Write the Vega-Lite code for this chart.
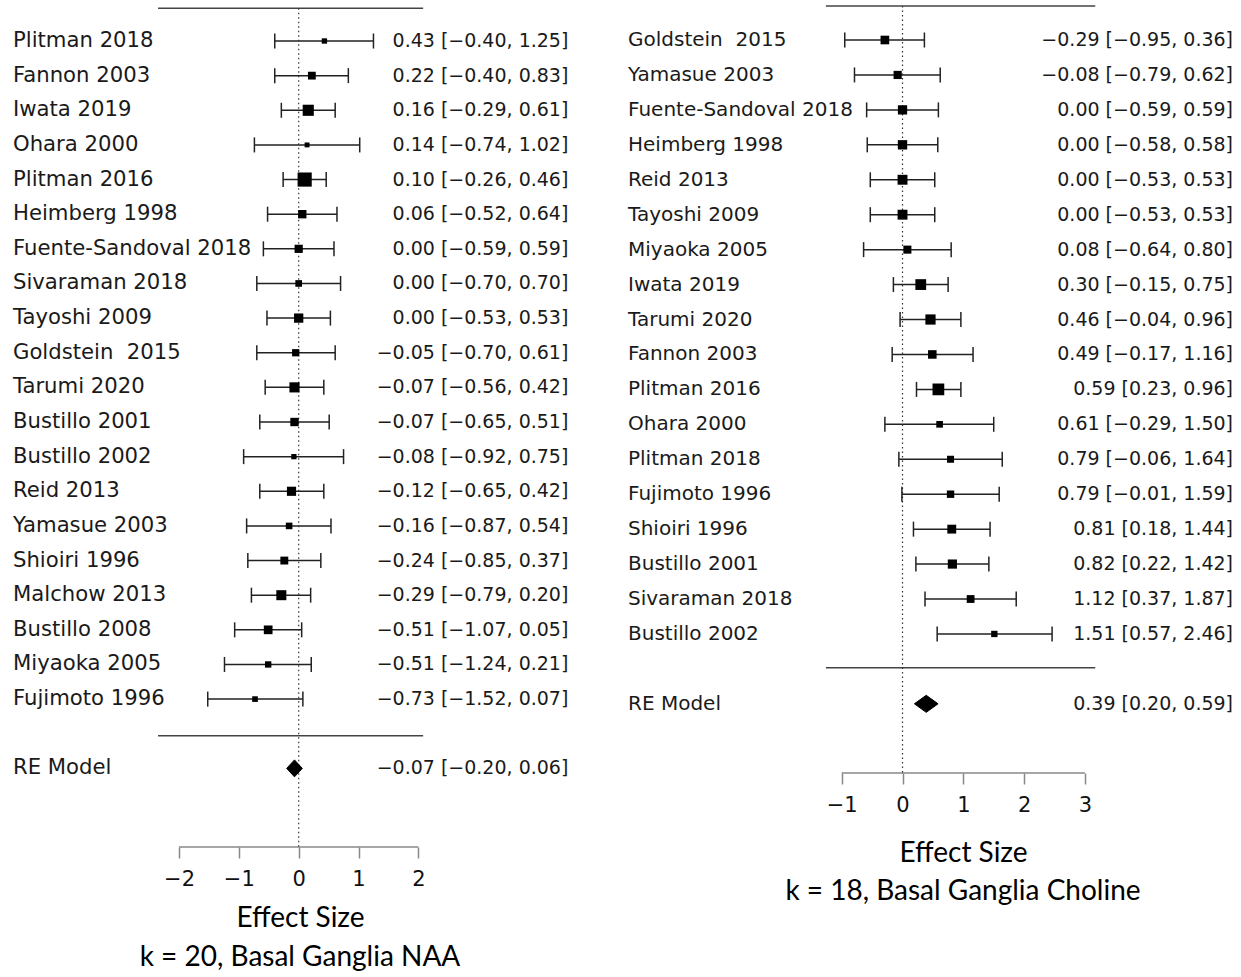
{
  "$schema": "https://vega.github.io/schema/vega-lite/v6.json",
  "padding": 0,
  "background": "white",
  "bounds": "flush",
  "spacing": 10,
  "config": {
    "view": {"stroke": null},
    "axis": {"grid": false},
    "text": {"font": "DejaVu Sans"}
  },
  "datasets": {
    "naa": [
      {"study": "Plitman 2018", "row": 1, "est": 0.43, "lb": -0.40, "ub": 1.25, "weight": 2.47, "ci": "0.43 [−0.40, 1.25]", "kind": "study"},
      {"study": "Fannon 2003", "row": 2, "est": 0.22, "lb": -0.40, "ub": 0.83, "weight": 4.45, "ci": "0.22 [−0.40, 0.83]", "kind": "study"},
      {"study": "Iwata 2019", "row": 3, "est": 0.16, "lb": -0.29, "ub": 0.61, "weight": 8.32, "ci": "0.16 [−0.29, 0.61]", "kind": "study"},
      {"study": "Ohara 2000", "row": 4, "est": 0.14, "lb": -0.74, "ub": 1.02, "weight": 2.18, "ci": "0.14 [−0.74, 1.02]", "kind": "study"},
      {"study": "Plitman 2016", "row": 5, "est": 0.10, "lb": -0.26, "ub": 0.46, "weight": 13.0, "ci": "0.10 [−0.26, 0.46]", "kind": "study"},
      {"study": "Heimberg 1998", "row": 6, "est": 0.06, "lb": -0.52, "ub": 0.64, "weight": 5.01, "ci": "0.06 [−0.52, 0.64]", "kind": "study"},
      {"study": "Fuente-Sandoval 2018", "row": 7, "est": 0.00, "lb": -0.59, "ub": 0.59, "weight": 4.84, "ci": "0.00 [−0.59, 0.59]", "kind": "study"},
      {"study": "Sivaraman 2018", "row": 8, "est": 0.00, "lb": -0.70, "ub": 0.70, "weight": 3.44, "ci": "0.00 [−0.70, 0.70]", "kind": "study"},
      {"study": "Tayoshi 2009", "row": 9, "est": 0.00, "lb": -0.53, "ub": 0.53, "weight": 6.00, "ci": "0.00 [−0.53, 0.53]", "kind": "study"},
      {"study": "Goldstein\u00a0 2015", "row": 10, "est": -0.05, "lb": -0.70, "ub": 0.61, "weight": 3.93, "ci": "−0.05 [−0.70, 0.61]", "kind": "study"},
      {"study": "Tarumi 2020", "row": 11, "est": -0.07, "lb": -0.56, "ub": 0.42, "weight": 7.02, "ci": "−0.07 [−0.56, 0.42]", "kind": "study"},
      {"study": "Bustillo 2001", "row": 12, "est": -0.07, "lb": -0.65, "ub": 0.51, "weight": 5.01, "ci": "−0.07 [−0.65, 0.51]", "kind": "study"},
      {"study": "Bustillo 2002", "row": 13, "est": -0.08, "lb": -0.92, "ub": 0.75, "weight": 2.42, "ci": "−0.08 [−0.92, 0.75]", "kind": "study"},
      {"study": "Reid 2013", "row": 14, "est": -0.12, "lb": -0.65, "ub": 0.42, "weight": 5.88, "ci": "−0.12 [−0.65, 0.42]", "kind": "study"},
      {"study": "Yamasue 2003", "row": 15, "est": -0.16, "lb": -0.87, "ub": 0.54, "weight": 3.39, "ci": "−0.16 [−0.87, 0.54]", "kind": "study"},
      {"study": "Shioiri 1996", "row": 16, "est": -0.24, "lb": -0.85, "ub": 0.37, "weight": 4.53, "ci": "−0.24 [−0.85, 0.37]", "kind": "study"},
      {"study": "Malchow 2013", "row": 17, "est": -0.29, "lb": -0.79, "ub": 0.20, "weight": 6.87, "ci": "−0.29 [−0.79, 0.20]", "kind": "study"},
      {"study": "Bustillo 2008", "row": 18, "est": -0.51, "lb": -1.07, "ub": 0.05, "weight": 5.37, "ci": "−0.51 [−1.07, 0.05]", "kind": "study"},
      {"study": "Miyaoka 2005", "row": 19, "est": -0.51, "lb": -1.24, "ub": 0.21, "weight": 3.21, "ci": "−0.51 [−1.24, 0.21]", "kind": "study"},
      {"study": "Fujimoto 1996", "row": 20, "est": -0.73, "lb": -1.52, "ub": 0.07, "weight": 2.67, "ci": "−0.73 [−1.52, 0.07]", "kind": "study"},
      {"study": "RE Model", "row": 22, "est": -0.07, "lb": -0.20, "ub": 0.06, "ci": "−0.07 [−0.20, 0.06]", "kind": "summary"}
    ],
    "cho": [
      {"study": "Goldstein\u00a0 2015", "row": 1, "est": -0.29, "lb": -0.95, "ub": 0.36, "weight": 5.29, "ci": "−0.29 [−0.95, 0.36]", "kind": "study"},
      {"study": "Yamasue 2003", "row": 2, "est": -0.08, "lb": -0.79, "ub": 0.62, "weight": 4.83, "ci": "−0.08 [−0.79, 0.62]", "kind": "study"},
      {"study": "Fuente-Sandoval 2018", "row": 3, "est": 0.00, "lb": -0.59, "ub": 0.59, "weight": 5.99, "ci": "0.00 [−0.59, 0.59]", "kind": "study"},
      {"study": "Heimberg 1998", "row": 4, "est": 0.00, "lb": -0.58, "ub": 0.58, "weight": 6.11, "ci": "0.00 [−0.58, 0.58]", "kind": "study"},
      {"study": "Reid 2013", "row": 5, "est": 0.00, "lb": -0.53, "ub": 0.53, "weight": 6.72, "ci": "0.00 [−0.53, 0.53]", "kind": "study"},
      {"study": "Tayoshi 2009", "row": 6, "est": 0.00, "lb": -0.53, "ub": 0.53, "weight": 6.72, "ci": "0.00 [−0.53, 0.53]", "kind": "study"},
      {"study": "Miyaoka 2005", "row": 7, "est": 0.08, "lb": -0.64, "ub": 0.80, "weight": 4.69, "ci": "0.08 [−0.64, 0.80]", "kind": "study"},
      {"study": "Iwata 2019", "row": 8, "est": 0.30, "lb": -0.15, "ub": 0.75, "weight": 7.84, "ci": "0.30 [−0.15, 0.75]", "kind": "study"},
      {"study": "Tarumi 2020", "row": 9, "est": 0.46, "lb": -0.04, "ub": 0.96, "weight": 7.12, "ci": "0.46 [−0.04, 0.96]", "kind": "study"},
      {"study": "Fannon 2003", "row": 10, "est": 0.49, "lb": -0.17, "ub": 1.16, "weight": 5.19, "ci": "0.49 [−0.17, 1.16]", "kind": "study"},
      {"study": "Plitman 2016", "row": 11, "est": 0.59, "lb": 0.23, "ub": 0.96, "weight": 9.18, "ci": "0.59 [0.23, 0.96]", "kind": "study"},
      {"study": "Ohara 2000", "row": 12, "est": 0.61, "lb": -0.29, "ub": 1.50, "weight": 3.45, "ci": "0.61 [−0.29, 1.50]", "kind": "study"},
      {"study": "Plitman 2018", "row": 13, "est": 0.79, "lb": -0.06, "ub": 1.64, "weight": 3.72, "ci": "0.79 [−0.06, 1.64]", "kind": "study"},
      {"study": "Fujimoto 1996", "row": 14, "est": 0.79, "lb": -0.01, "ub": 1.59, "weight": 4.07, "ci": "0.79 [−0.01, 1.59]", "kind": "study"},
      {"study": "Shioiri 1996", "row": 15, "est": 0.81, "lb": 0.18, "ub": 1.44, "weight": 5.55, "ci": "0.81 [0.18, 1.44]", "kind": "study"},
      {"study": "Bustillo 2001", "row": 16, "est": 0.82, "lb": 0.22, "ub": 1.42, "weight": 5.88, "ci": "0.82 [0.22, 1.42]", "kind": "study"},
      {"study": "Sivaraman 2018", "row": 17, "est": 1.12, "lb": 0.37, "ub": 1.87, "weight": 4.44, "ci": "1.12 [0.37, 1.87]", "kind": "study"},
      {"study": "Bustillo 2002", "row": 18, "est": 1.51, "lb": 0.57, "ub": 2.46, "weight": 3.18, "ci": "1.51 [0.57, 2.46]", "kind": "study"},
      {"study": "RE Model", "row": 20, "est": 0.39, "lb": 0.20, "ub": 0.59, "ci": "0.39 [0.20, 0.59]", "kind": "summary"}
    ]
  },
  "hconcat": [
    {
      "width": 600,
      "height": 847,
      "title": {"text": "k = 20, Basal Ganglia NAA", "orient": "bottom", "anchor": "middle", "font": "Lato", "fontSize": 28, "fontWeight": "normal", "color": "#000", "offset": 11},
      "data": {"name": "naa"},
      "layer": [
        {
          "transform": [{"filter": "datum.kind == 'study'"}],
          "mark": {"type": "rule", "color": "#222", "strokeWidth": 1.5},
          "encoding": {
            "x": {"field": "lb", "type": "quantitative", "title": "Effect Size",
              "scale": {"domain": [-4.992, 5.036], "nice": false, "zero": false},
              "axis": {"values": [-2, -1, 0, 1, 2], "format": "d", "domain": false, "ticks": true, "tickColor": "#888", "tickWidth": 1.5, "tickSize": 11, "labelFont": "DejaVu Sans", "labelFontSize": 21, "labelColor": "#111", "labelPadding": 10, "labelFlush": false, "labelOverlap": false, "titleFont": "Lato", "titleFontSize": 28, "titleFontWeight": "normal", "titleColor": "#000", "titlePadding": 15.5}},
            "x2": {"field": "ub"},
            "y": {"field": "row", "type": "quantitative", "axis": null, "scale": {"domain": [-0.184, 24.27], "reverse": true, "nice": false, "zero": false}}
          }
        },
        {
          "data": {"values": [{}]},
          "mark": {"type": "rule", "color": "#444", "strokeWidth": 1.5},
          "encoding": {"x": {"datum": -2.35, "type": "quantitative", "title": "Effect Size"}, "x2": {"datum": 2.08}, "y": {"datum": 0.056, "type": "quantitative", "axis": null}}
        },
        {
          "data": {"values": [{}]},
          "mark": {"type": "rule", "color": "#444", "strokeWidth": 1.5},
          "encoding": {"x": {"datum": -2.35, "type": "quantitative", "title": "Effect Size"}, "x2": {"datum": 2.08}, "y": {"datum": 21.06, "type": "quantitative", "axis": null}}
        },
        {
          "data": {"values": [{}]},
          "mark": {"type": "rule", "color": "#888", "strokeWidth": 1.5},
          "encoding": {"x": {"datum": -2, "type": "quantitative", "title": "Effect Size"}, "x2": {"datum": 2}, "y": {"datum": 24.27, "type": "quantitative", "axis": null}}
        },
        {
          "data": {"values": [{}]},
          "mark": {"type": "rule", "color": "#333", "strokeWidth": 1.2, "strokeDash": [1.5, 3]},
          "encoding": {"x": {"datum": 0, "type": "quantitative", "title": "Effect Size"}, "y": {"datum": 0.056, "type": "quantitative", "axis": null}, "y2": {"datum": 24.27}}
        },
        {
          "transform": [{"filter": "datum.kind == 'study'"}],
          "mark": {"type": "point", "shape": "M0,-1L0,1", "size": 225, "filled": false, "stroke": "#222", "strokeWidth": 1.5, "opacity": 1},
          "encoding": {"x": {"field": "lb", "type": "quantitative", "title": "Effect Size"}, "y": {"field": "row", "type": "quantitative", "axis": null}}
        },
        {
          "transform": [{"filter": "datum.kind == 'study'"}],
          "mark": {"type": "point", "shape": "M0,-1L0,1", "size": 225, "filled": false, "stroke": "#222", "strokeWidth": 1.5, "opacity": 1},
          "encoding": {"x": {"field": "ub", "type": "quantitative", "title": "Effect Size"}, "y": {"field": "row", "type": "quantitative", "axis": null}}
        },
        {
          "transform": [{"filter": "datum.kind == 'study'"}],
          "mark": {"type": "point", "shape": "square", "filled": true, "color": "#000", "opacity": 1, "strokeWidth": 0},
          "encoding": {
            "x": {"field": "est", "type": "quantitative", "title": "Effect Size"},
            "y": {"field": "row", "type": "quantitative", "axis": null},
            "size": {"field": "weight", "type": "quantitative", "legend": null, "scale": {"domain": [2.18, 13.0], "range": [24, 200], "zero": false}}
          }
        },
        {
          "transform": [{"filter": "datum.kind == 'summary'"}],
          "mark": {"type": "point", "shape": "M-1,0L0,-1.09L1,0L0,1.09Z", "size": 243, "filled": true, "color": "#000", "stroke": "#000", "strokeWidth": 1, "opacity": 1},
          "encoding": {"x": {"field": "est", "type": "quantitative", "title": "Effect Size"}, "y": {"field": "row", "type": "quantitative", "axis": null}}
        },
        {
          "mark": {"type": "text", "align": "left", "baseline": "middle", "fontSize": 21.2, "color": "#1a1a1a", "font": "DejaVu Sans"},
          "encoding": {"x": {"datum": -4.775, "type": "quantitative", "title": "Effect Size"}, "y": {"field": "row", "type": "quantitative", "axis": null}, "text": {"field": "study"}}
        },
        {
          "mark": {"type": "text", "align": "right", "baseline": "middle", "fontSize": 19, "color": "#1a1a1a", "font": "DejaVu Sans"},
          "encoding": {"x": {"datum": 4.507, "type": "quantitative", "title": "Effect Size"}, "y": {"field": "row", "type": "quantitative", "axis": null}, "text": {"field": "ci"}}
        }
      ]
    },
    {
      "width": 631,
      "height": 773,
      "title": {"text": "k = 18, Basal Ganglia Choline", "orient": "bottom", "anchor": "middle", "dx": 37.5, "font": "Lato", "fontSize": 28, "fontWeight": "normal", "color": "#000", "offset": 10},
      "data": {"name": "cho"},
      "layer": [
        {
          "transform": [{"filter": "datum.kind == 'study'"}],
          "mark": {"type": "rule", "color": "#222", "strokeWidth": 1.5},
          "encoding": {
            "x": {"field": "lb", "type": "quantitative", "title": "Effect Size",
              "scale": {"domain": [-4.811, 5.567], "nice": false, "zero": false},
              "axis": {"values": [-1, 0, 1, 2, 3], "format": "d", "domain": false, "ticks": true, "tickColor": "#888", "tickWidth": 1.5, "tickSize": 11, "labelFont": "DejaVu Sans", "labelFontSize": 21, "labelColor": "#111", "labelPadding": 10, "labelFlush": false, "labelOverlap": false, "titleFont": "Lato", "titleFontSize": 28, "titleFontWeight": "normal", "titleColor": "#000", "titlePadding": 24.5, "titleX": 353, "titleAlign": "center"}},
            "x2": {"field": "ub"},
            "y": {"field": "row", "type": "quantitative", "axis": null, "scale": {"domain": [-0.145, 21.98], "reverse": true, "nice": false, "zero": false}}
          }
        },
        {
          "data": {"values": [{}]},
          "mark": {"type": "rule", "color": "#444", "strokeWidth": 1.5},
          "encoding": {"x": {"datum": -1.26, "type": "quantitative", "title": "Effect Size"}, "x2": {"datum": 3.17}, "y": {"datum": 0.027, "type": "quantitative", "axis": null}}
        },
        {
          "data": {"values": [{}]},
          "mark": {"type": "rule", "color": "#444", "strokeWidth": 1.5},
          "encoding": {"x": {"datum": -1.26, "type": "quantitative", "title": "Effect Size"}, "x2": {"datum": 3.17}, "y": {"datum": 18.97, "type": "quantitative", "axis": null}}
        },
        {
          "data": {"values": [{}]},
          "mark": {"type": "rule", "color": "#888", "strokeWidth": 1.5},
          "encoding": {"x": {"datum": -1, "type": "quantitative", "title": "Effect Size"}, "x2": {"datum": 3}, "y": {"datum": 21.98, "type": "quantitative", "axis": null}}
        },
        {
          "data": {"values": [{}]},
          "mark": {"type": "rule", "color": "#333", "strokeWidth": 1.2, "strokeDash": [1.5, 3]},
          "encoding": {"x": {"datum": 0, "type": "quantitative", "title": "Effect Size"}, "y": {"datum": 0.027, "type": "quantitative", "axis": null}, "y2": {"datum": 21.98}}
        },
        {
          "transform": [{"filter": "datum.kind == 'study'"}],
          "mark": {"type": "point", "shape": "M0,-1L0,1", "size": 225, "filled": false, "stroke": "#222", "strokeWidth": 1.5, "opacity": 1},
          "encoding": {"x": {"field": "lb", "type": "quantitative", "title": "Effect Size"}, "y": {"field": "row", "type": "quantitative", "axis": null}}
        },
        {
          "transform": [{"filter": "datum.kind == 'study'"}],
          "mark": {"type": "point", "shape": "M0,-1L0,1", "size": 225, "filled": false, "stroke": "#222", "strokeWidth": 1.5, "opacity": 1},
          "encoding": {"x": {"field": "ub", "type": "quantitative", "title": "Effect Size"}, "y": {"field": "row", "type": "quantitative", "axis": null}}
        },
        {
          "transform": [{"filter": "datum.kind == 'study'"}],
          "mark": {"type": "point", "shape": "square", "filled": true, "color": "#000", "opacity": 1, "strokeWidth": 0},
          "encoding": {
            "x": {"field": "est", "type": "quantitative", "title": "Effect Size"},
            "y": {"field": "row", "type": "quantitative", "axis": null},
            "size": {"field": "weight", "type": "quantitative", "legend": null, "scale": {"domain": [3.18, 9.18], "range": [24, 220], "zero": false}}
          }
        },
        {
          "transform": [{"filter": "datum.kind == 'summary'"}],
          "mark": {"type": "point", "shape": "M-1,0L0,-0.72L1,0L0,0.72Z", "size": 562, "filled": true, "color": "#000", "stroke": "#000", "strokeWidth": 1, "opacity": 1},
          "encoding": {"x": {"field": "est", "type": "quantitative", "title": "Effect Size"}, "y": {"field": "row", "type": "quantitative", "axis": null}}
        },
        {
          "mark": {"type": "text", "align": "left", "baseline": "middle", "fontSize": 20, "color": "#1a1a1a", "font": "DejaVu Sans"},
          "encoding": {"x": {"datum": -4.515, "type": "quantitative", "title": "Effect Size"}, "y": {"field": "row", "type": "quantitative", "axis": null}, "text": {"field": "study"}}
        },
        {
          "mark": {"type": "text", "align": "right", "baseline": "middle", "fontSize": 19, "color": "#1a1a1a", "font": "DejaVu Sans"},
          "encoding": {"x": {"datum": 5.436, "type": "quantitative", "title": "Effect Size"}, "y": {"field": "row", "type": "quantitative", "axis": null}, "text": {"field": "ci"}}
        }
      ]
    }
  ]
}
